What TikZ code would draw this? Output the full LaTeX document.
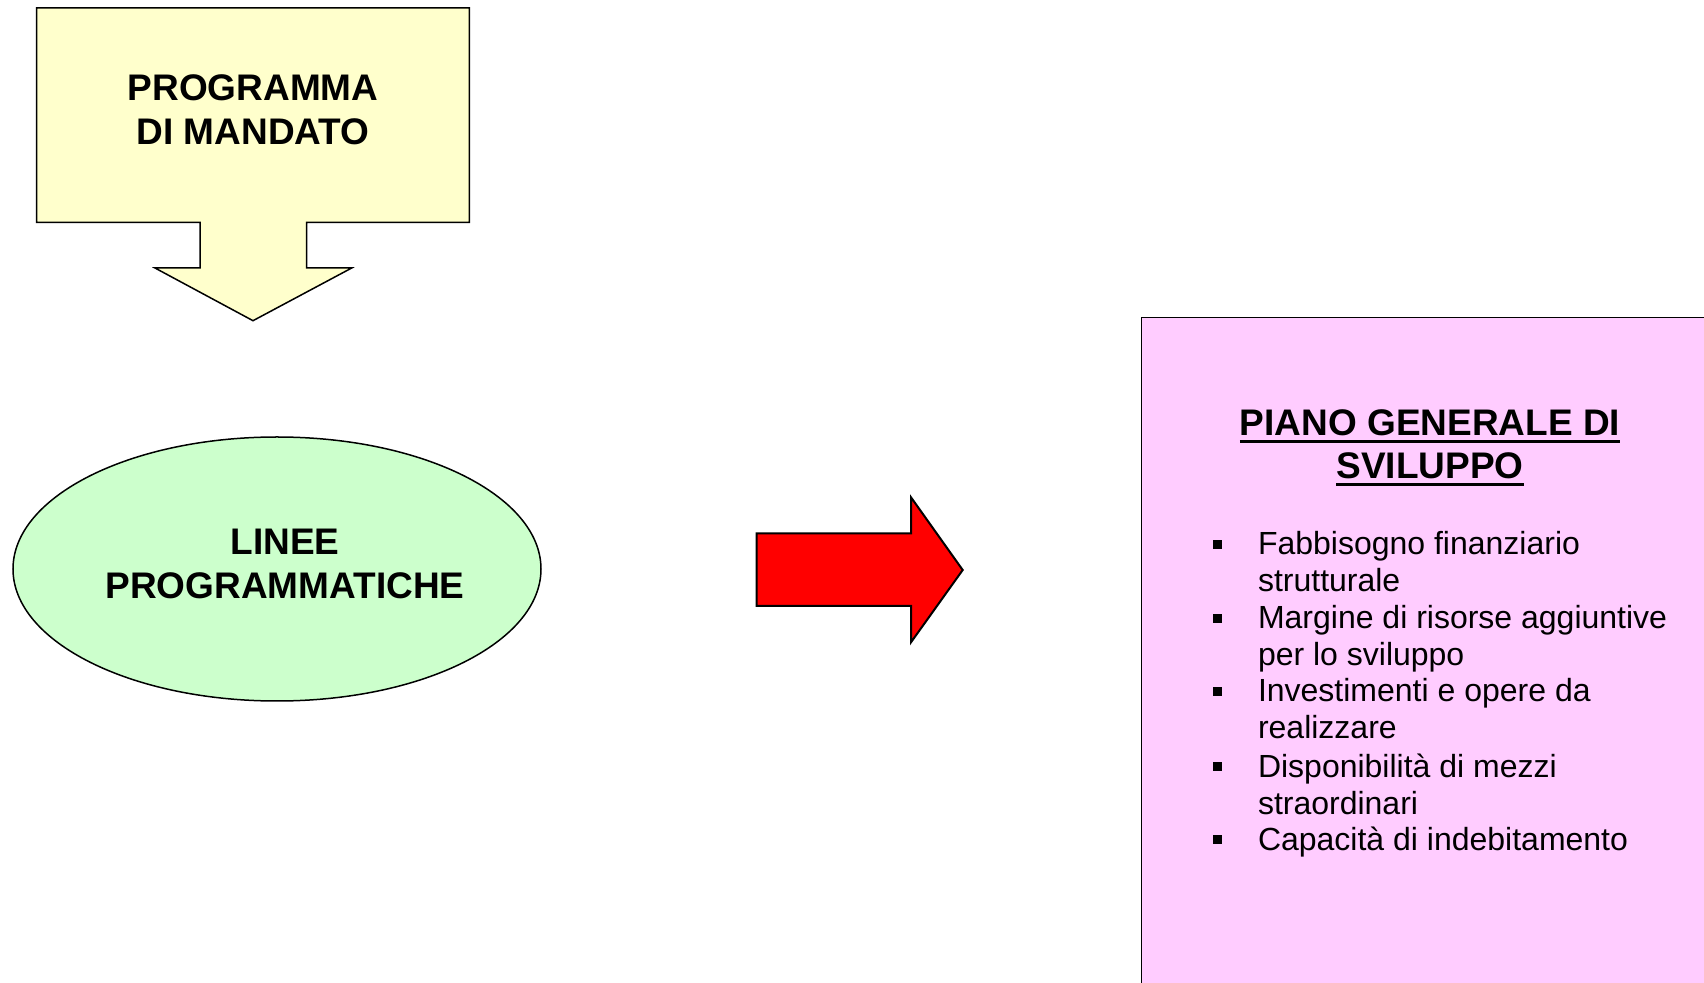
\documentclass[tikz,border=0pt]{standalone}
\usepackage{fontspec}
\setmainfont{Liberation Sans}
\definecolor{cffffcc}{RGB}{255,255,204}
\definecolor{cccffcc}{RGB}{204,255,204}
\definecolor{cffccff}{RGB}{255,204,255}
\definecolor{cff0000}{RGB}{255,0,0}
\newcommand{\sottolinea}[1]{\setbox0\hbox{#1}\rlap{\rule[-3.75pt]{\wd0}{1.5pt}}\box0}

\begin{document}
\begin{tikzpicture}[y=0.5pt, x=0.5pt, yscale=-1, inner sep=0pt, outer sep=0pt,
  grassetto/.style={font=\fontsize{18.5}{22}\selectfont\bfseries, align=center},
  voce/.style={anchor=base west, font=\fontsize{16}{18.5}\selectfont}]
\useasboundingbox (0,0) rectangle (1704,983);
\clip (0,0) rectangle (1704,983);

  % riquadro con freccia in basso
  \path[draw=black,fill=cffffcc,line join=miter,line width=0.75pt] (36.7,8.0) --
    (469.3,8.0) -- (469.3,222.3) -- (306.7,222.3) -- (306.7,268.0) --
    (351.7,268.0) -- (253.0,320.7) -- (155.0,268.0) -- (200.0,268.0) --
    (200.0,222.3) -- (36.7,222.3) -- cycle;
  \path (253,109.5) node[grassetto] (programma) {PROGRAMMA\\DI MANDATO};

  % ellisse
  \path[draw=black,fill=cccffcc,line width=0.75pt] (277,569) ellipse (264 and 132);
  \path (285,563.5) node[grassetto] (linee) {LINEE\\PROGRAMMATICHE};

  % freccia rossa
  \path[draw=black,fill=cff0000,line join=miter,line width=1pt] (756.7,533.3) --
    (911.0,533.3) -- (911.0,497.3) -- (962.7,570.0) -- (911.0,642.3) --
    (911.0,606.0) -- (756.7,606.0) -- cycle;

  % riquadro rosa
  \path[draw=black,fill=cffccff,line width=0.75pt] (1141.5,317.3) rectangle (1720,1000);
  \path (1430,448) node[grassetto, font=\fontsize{18.5}{21.5}\selectfont\bfseries]
    (piano) {\sottolinea{PIANO GENERALE DI}\\\sottolinea{SVILUPPO}};

  \path[fill=black] (1213,540) rectangle (1222,549);
  \path[fill=black] (1213,614) rectangle (1222,623);
  \path[fill=black] (1213,687) rectangle (1222,696);
  \path[fill=black] (1213,762) rectangle (1222,771);
  \path[fill=black] (1213,835) rectangle (1222,844);
  \path (1258,555) node[voce] (voce1) {\parbox[t]{240pt}{Fabbisogno finanziario\\strutturale}};
  \path (1258,629) node[voce] (voce2) {\parbox[t]{240pt}{Margine di risorse aggiuntive\\per lo sviluppo}};
  \path (1258,702) node[voce] (voce3) {\parbox[t]{240pt}{Investimenti e opere da\\realizzare}};
  \path (1258,777) node[voce] (voce4) {\parbox[t]{240pt}{Disponibilità di mezzi\\straordinari}};
  \path (1258,850) node[voce] (voce5) {Capacità di indebitamento};

\end{tikzpicture}
\end{document}
